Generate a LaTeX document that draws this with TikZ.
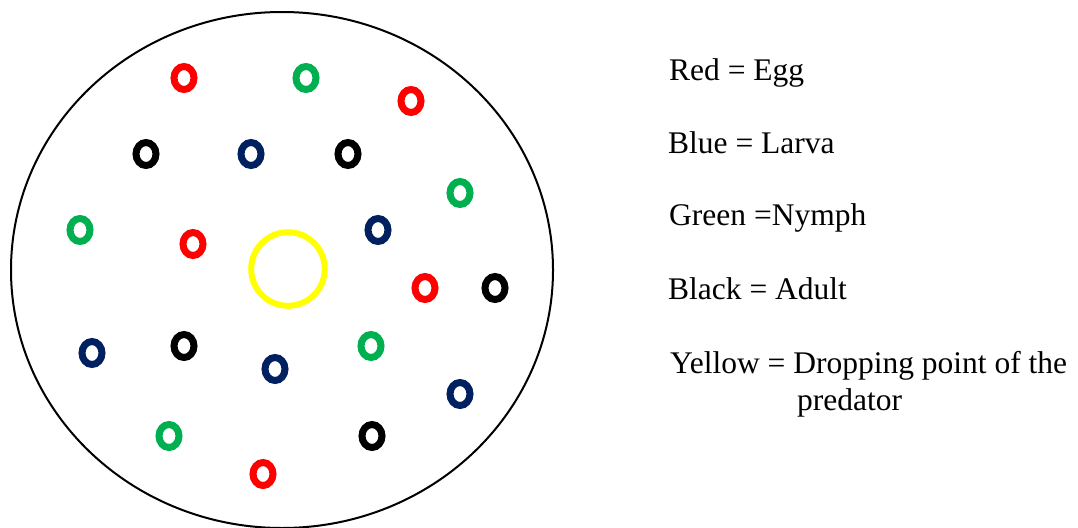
\documentclass[tikz,border=0pt]{standalone}
\usepackage{fontspec}
\setmainfont{Liberation Serif}
\usetikzlibrary{shapes.geometric}
\definecolor{eggred}{RGB}{255,0,0}
\definecolor{larvablue}{RGB}{0,32,96}
\definecolor{nymphgreen}{RGB}{0,176,80}
\definecolor{dropyellow}{RGB}{255,255,0}
\begin{document}
\begin{tikzpicture}[
      x=1pt, y=-1pt,
      font=\fontsize{31.5}{37}\selectfont,
      arena/.style={ellipse, draw=black, line width=2pt, inner sep=0pt, minimum width=542pt, minimum height=516pt},
      ring/.style={ellipse, line width=7pt, inner sep=0pt, minimum width=20pt, minimum height=23pt},
      egg/.style={ring, draw=eggred},
      larva/.style={ring, draw=larvablue},
      nymph/.style={ring, draw=nymphgreen},
      adult/.style={ring, draw=black},
      legende/.style={anchor=base west, inner sep=0pt}
    ]
      \useasboundingbox (0,0) rectangle (1078,527);
      \node[arena] (dish) at (282,270) {};
      \node[circle, draw=dropyellow, line width=6pt, inner sep=0pt, minimum size=73.6pt] (drop) at (288,269) {};

      \node[egg] (e1) at (184,78) {};
      \node[egg] (e2) at (411,101) {};
      \node[egg] (e3) at (193,244) {};
      \node[egg] (e4) at (425,288) {};
      \node[egg] (e5) at (263,474) {};

      \node[larva] (l1) at (251,154) {};
      \node[larva] (l2) at (378,230) {};
      \node[larva] (l3) at (92,353) {};
      \node[larva] (l4) at (275,369) {};
      \node[larva] (l5) at (460,394) {};

      \node[nymph] (n1) at (306,78) {};
      \node[nymph] (n2) at (460,193) {};
      \node[nymph] (n3) at (80,230) {};
      \node[nymph] (n4) at (371,346) {};
      \node[nymph] (n5) at (169,436) {};

      \node[adult] (a1) at (146,154) {};
      \node[adult] (a2) at (348,154) {};
      \node[adult] (a3) at (495,288) {};
      \node[adult] (a4) at (184,346) {};
      \node[adult] (a5) at (372,436) {};

      \node[legende] (keyegg) at (669,80.7) {Red = Egg};
      \node[legende] (keylarva) at (668,153.3) {Blue = Larva};
      \node[legende] (keynymph) at (669,225.7) {Green =Nymph};
      \node[legende] (keyadult) at (668,299) {Black = Adult};
      \node[legende] (keydrop) at (670,373.3) {Yellow = Dropping point of the};
      \node[legende] (keydrop2) at (797,410) {predator};
    \end{tikzpicture}
\end{document}
